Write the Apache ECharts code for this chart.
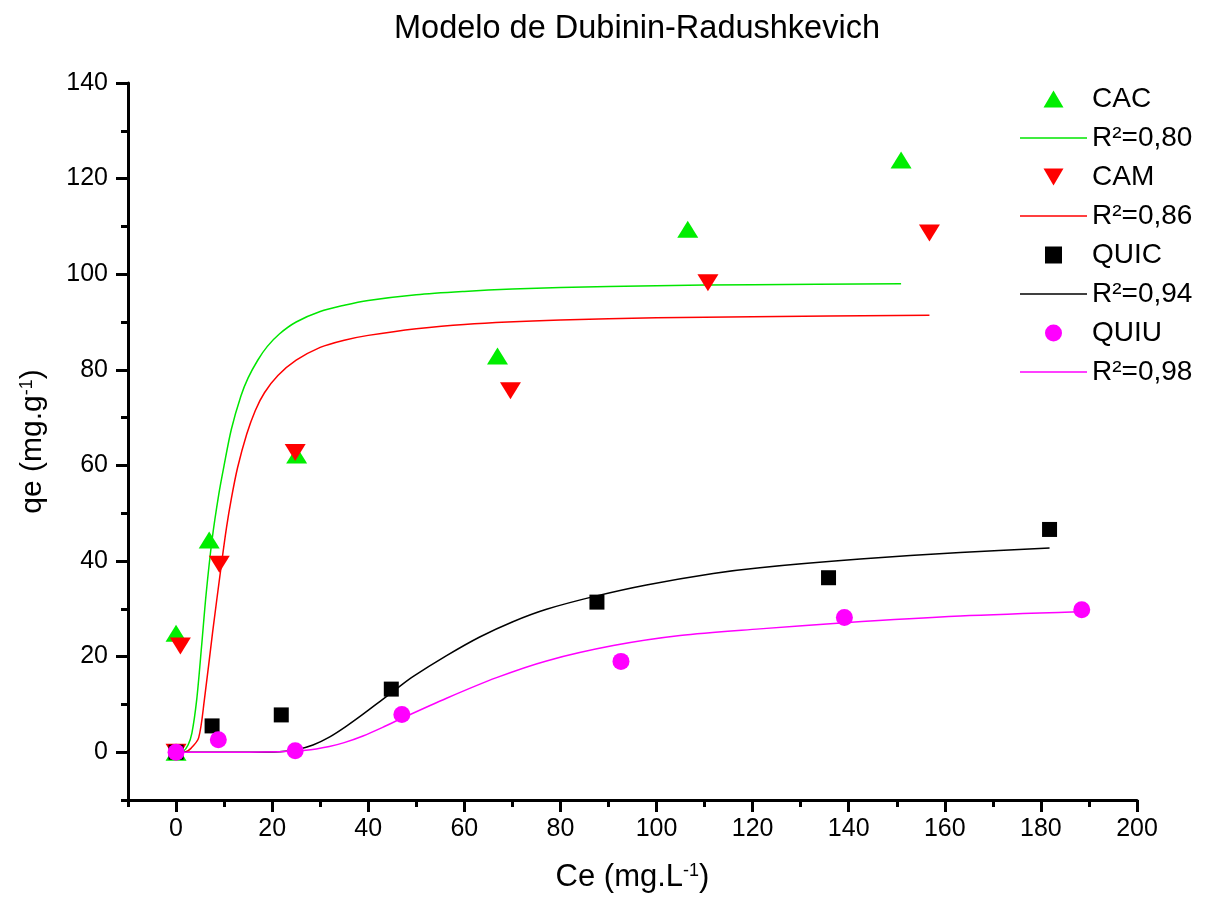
<!DOCTYPE html>
<html>
<head>
<meta charset="utf-8">
<title>Modelo de Dubinin-Radushkevich</title>
<script src="https://cdn.jsdelivr.net/npm/echarts@6/dist/echarts.min.js"></script>
<style>
  html, body { margin: 0; padding: 0; background: #fff; }
  #chart { width: 1209px; height: 898px; }
</style>
</head>
<body>
<div id="chart"></div>
<script>
// tick values
var xMajor = [0, 20, 40, 60, 80, 100, 120, 140, 160, 180, 200];
var xMinor = [-10, 10, 30, 50, 70, 90, 110, 130, 150, 170, 190];
var yMajor = [0, 20, 40, 60, 80, 100, 120, 140];
var yMinor = [-10, 10, 30, 50, 70, 90, 110, 130];

// measured points [Ce, qe]
var cacPoints = [[0, 0], [0, 24.9], [6.9, 44.4], [25.1, 62.2], [66.9, 82.9], [106.5, 109.4], [150.9, 123.9]];
var camPoints = [[0, 0], [0.9, 22.2], [9.0, 39.3], [24.8, 62.7], [69.6, 75.6], [110.7, 98.2], [156.8, 108.6]];
var quicPoints = [[0, 0], [7.5, 5.5], [21.9, 7.8], [44.8, 13.2], [87.6, 31.4], [135.8, 36.5], [181.8, 46.6]];
var quiuPoints = [[0, 0], [8.8, 2.6], [24.8, 0.3], [47.0, 7.9], [92.6, 19.0], [139.1, 28.2], [188.5, 29.8]];

// fitted curves
var cacFit = [[0, 0], [1.5, 0.2], [2.5, 1.5], [3.3, 4], [4.3, 11], [5.3, 22], [6.25, 33], [7.5, 44.5], [8.9, 54], [10, 60],
  [11.5, 67.5], [13.5, 74.5], [15, 78.3], [17, 82], [19, 84.9], [21.5, 87.5], [25, 90], [30, 92.2], [35, 93.5], [40, 94.5],
  [50, 95.7], [60, 96.4], [70, 96.9], [80, 97.2], [100, 97.6], [120, 97.8], [150.9, 98.0]];
var camFit = [[0, 0], [2, 0.1], [3.1, 0.8], [4.7, 3], [5.9, 11], [7.6, 25], [9.4, 39], [10.5, 47], [11.5, 53], [12.8, 59.5],
  [14.7, 66.5], [16.5, 71.5], [18.4, 75.2], [21.2, 78.8], [25, 82], [30, 84.7], [35, 86.2], [40, 87.2], [50, 88.6], [60, 89.5],
  [80, 90.4], [100, 90.9], [120, 91.1], [156.8, 91.4]];
var quicFit = [[0, 0], [15, 0], [21.5, 0.1], [25, 0.5], [28.5, 1.5], [32, 3.2], [35.4, 5.4], [39, 8], [42.4, 10.6], [45.8, 13.2],
  [49.3, 15.8], [56.3, 20.2], [63.2, 24.1], [70.1, 27.3], [77.1, 29.9], [87.5, 32.7], [97.9, 35], [111.8, 37.4], [121.5, 38.6],
  [142.4, 40.4], [163.2, 41.8], [181.8, 42.7]];
var quiuFit = [[0, 0], [15, 0], [21.5, 0.1], [27, 0.4], [31.9, 1.2], [35, 2.0], [38.9, 3.4], [43, 5.2], [47, 7.1], [56.3, 11.3],
  [66.7, 15.6], [77.1, 19.1], [91, 22.3], [104.9, 24.4], [121.5, 25.8], [139.1, 27.1], [163.2, 28.5], [187.8, 29.4]];

var font = 'Liberation Sans, Arial, sans-serif';
var upTriangle = 'path://M5,0L10,8.5L0,8.5Z';
var downTriangle = 'path://M0,0L10,0L5,8.5Z';
var square = 'path://M0,0L10,0L10,10L0,10Z';
var lineIcon = 'path://M0,0L67,0L67,1.6L0,1.6Z';

var chart = echarts.init(document.getElementById('chart'));

function fitLine(name, color, data) {
    return {
        name: name,
        type: 'line',
        data: data,
        symbol: 'none',
        showSymbol: false,
        smooth: 0.3,
        lineStyle: { color: color, width: 1.5 },
        itemStyle: { color: color, borderWidth: 0 },
        z: 2
    };
}

function points(name, color, symbol, size, data) {
    return {
        name: name,
        type: 'scatter',
        data: data,
        symbol: symbol,
        symbolSize: size,
        itemStyle: { color: color, opacity: 1 },
        z: 3
    };
}

var gridBox = { left: 128, right: 72, top: 83, bottom: 98 };

var option = {
    animation: false,
    backgroundColor: '#fff',
    title: {
        text: 'Modelo de Dubinin-Radushkevich',
        left: 389,
        top: 8,
        textStyle: { fontFamily: font, fontSize: 32.5, fontWeight: 'normal', color: '#000' }
    },
    legend: {
        orient: 'vertical',
        left: 1015,
        top: 80,
        itemWidth: 67,
        itemHeight: 17,
        itemGap: 11,
        symbolKeepAspect: true,
        selectedMode: false,
        textStyle: { fontFamily: font, fontSize: 28, color: '#000' },
        data: [
            { name: 'CAC', icon: upTriangle },
            { name: 'R²=0,80', icon: lineIcon },
            { name: 'CAM', icon: downTriangle },
            { name: 'R²=0,86', icon: lineIcon },
            { name: 'QUIC', icon: square },
            { name: 'R²=0,94', icon: lineIcon },
            { name: 'QUIU', icon: 'circle' },
            { name: 'R²=0,98', icon: lineIcon }
        ]
    },
    grid: [
        Object.assign({}, gridBox),
        Object.assign({}, gridBox)
    ],
    xAxis: [{
        type: 'value',
        gridIndex: 0,
        min: -10,
        max: 200,
        interval: 10,
        name: 'Ce (mg.L{sup|-1})',
        nameLocation: 'middle',
        nameGap: 62,
        nameTextStyle: {
            fontFamily: font, fontSize: 31, color: '#000',
            rich: { sup: { fontFamily: font, fontSize: 18, verticalAlign: 'top', color: '#000' } }
        },
        axisLine: { show: true, onZero: false, lineStyle: { color: '#000', width: 3 } },
        axisTick: { show: true, customValues: xMajor, length: 12, lineStyle: { color: '#000', width: 3 } },
        axisLabel: { customValues: xMajor, fontFamily: font, fontSize: 25, color: '#000', margin: 17 },
        splitLine: { show: false }
    }, {
        type: 'value',
        gridIndex: 1,
        min: -10,
        max: 200,
        interval: 10,
        axisLine: { show: false, onZero: false },
        axisTick: { show: true, customValues: xMinor, length: 7, lineStyle: { color: '#000', width: 3 } },
        axisLabel: { show: false },
        splitLine: { show: false }
    }],
    yAxis: [{
        type: 'value',
        gridIndex: 0,
        min: -10,
        max: 140,
        interval: 10,
        name: 'qe (mg.g{sup|-1})',
        nameLocation: 'middle',
        nameRotate: 90,
        nameGap: 80,
        nameTextStyle: {
            fontFamily: font, fontSize: 30, color: '#000',
            rich: { sup: { fontFamily: font, fontSize: 18, verticalAlign: 'top', color: '#000' } }
        },
        axisLine: { show: true, onZero: false, lineStyle: { color: '#000', width: 3 } },
        axisTick: { show: true, customValues: yMajor, length: 12, lineStyle: { color: '#000', width: 3 } },
        axisLabel: { customValues: yMajor, fontFamily: font, fontSize: 25, color: '#000', margin: 20 },
        splitLine: { show: false }
    }, {
        type: 'value',
        gridIndex: 1,
        min: -10,
        max: 140,
        interval: 10,
        axisLine: { show: false, onZero: false },
        axisTick: { show: true, customValues: yMinor, length: 7, lineStyle: { color: '#000', width: 3 } },
        axisLabel: { show: false },
        splitLine: { show: false }
    }],
    series: [
        fitLine('R²=0,80', '#00e600', cacFit),
        fitLine('R²=0,86', '#ff0000', camFit),
        fitLine('R²=0,94', '#000000', quicFit),
        fitLine('R²=0,98', '#ff00ff', quiuFit),
        points('CAC', '#00ee00', upTriangle, [21, 17], cacPoints),
        points('CAM', '#ff0000', downTriangle, [21, 17], camPoints),
        points('QUIC', '#000000', square, 15, quicPoints),
        points('QUIU', '#ff00ff', 'circle', 17, quiuPoints)
    ]
};

chart.setOption(option);

window.onresize = function () {
    chart.resize();
};
</script>
</body>
</html>
